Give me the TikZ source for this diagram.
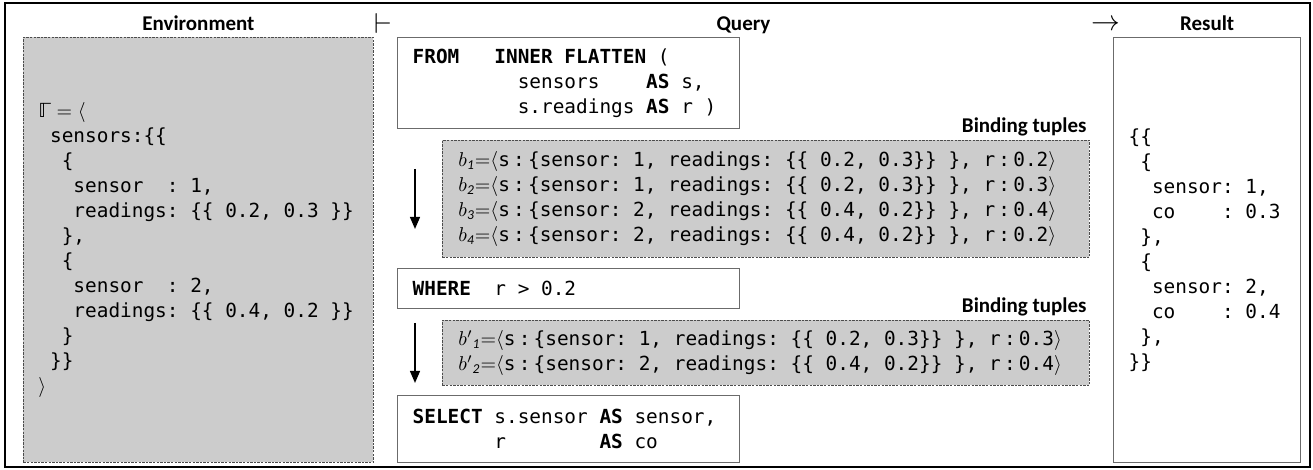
\documentclass[tikz,border=0pt]{standalone}
\usepackage{fontspec}
\usepackage{amssymb}
\setmainfont{Carlito}
\setmonofont{DejaVu Sans Mono}
\newfontfamily\symfont{DejaVu Sans}
\usetikzlibrary{positioning,calc,arrows.meta}
% blanks as whole monospace cells
\newcommand\gap[1]{\leavevmode\kern#1\fontcharwd\font`\x\relax}
\newcommand\spc{\gap{1}}

\begin{document}
\begin{tikzpicture}
[x=0.5pt, y=-0.5pt,
code/.style={font=\ttfamily\fontsize{9.7}{12.5}\selectfont, align=left, anchor=north west, inner xsep=7.5pt, inner ysep=0pt},
qbox/.style={code, draw=black!58, line width=0.65pt, minimum width=171pt, text width=156pt},
tbox/.style={code, draw=black!70, fill=black!20, dash pattern=on 1.2pt off 0.6pt, line width=0.45pt, minimum width=323.5pt, text width=307.5pt, inner xsep=8pt},
lbl/.style={font=\bfseries\fontsize{10.5}{12}\selectfont, inner sep=0pt, anchor=base},
sym/.style={font=\fontsize{15}{15}\selectfont, inner sep=0pt},
flow/.style={-{Triangle[length=6pt,width=5pt]}, line width=0.65pt}]
\useasboundingbox (0,0) rectangle (1313,470);
\draw[line width=1pt] (5,3) rectangle (1310,467);

% environment
\node[tbox, minimum width=175pt, text width=160pt, inner xsep=7.5pt, minimum height=212.5pt] (env) at (23,37)
	{{\symfont ℾ}${}={}\langle$\\
	\gap{1}sensors:\{\{\\
	\gap{2}\{\\
	\gap{3}sensor\gap{2}:\spc1,\\
	\gap{3}readings:\spc\{\{\spc0.2,\spc0.3\spc\}\}\\
	\gap{2}\},\\
	\gap{2}\{\\
	\gap{3}sensor\gap{2}:\spc2,\\
	\gap{3}readings:\spc\{\{\spc0.4,\spc0.2\spc\}\}\\
	\gap{2}\}\\
	\gap{1}\}\}\\
	$\rangle$};
\node[lbl] (envt) at (env.north |- 0,31) {Environment};
\node[sym] (turn) at (383,24) {$\vdash$};

% query
\node[qbox, minimum height=45.5pt] (from) at (397,37)
	{\textbf{FROM}\gap{3}\textbf{INNER}\spc\textbf{FLATTEN}\spc(\\
	\gap{9}sensors\gap{4}\textbf{AS}\spc s,\\
	\gap{9}s.readings\spc\textbf{AS}\spc r\spc)};
\node[tbox, minimum height=58.5pt] (t1) at (442,140)
	{$b_{\mathit{1}}{=}\langle$s\,:\,\{sensor:\spc1,\spc readings:\spc\{\{\spc0.2,\spc0.3\}\}\spc\},\spc r\,:\,0.2$\rangle$\\
	$b_{\mathit{2}}{=}\langle$s\,:\,\{sensor:\spc1,\spc readings:\spc\{\{\spc0.2,\spc0.3\}\}\spc\},\spc r\,:\,0.3$\rangle$\\
	$b_{\mathit{3}}{=}\langle$s\,:\,\{sensor:\spc2,\spc readings:\spc\{\{\spc0.4,\spc0.2\}\}\spc\},\spc r\,:\,0.4$\rangle$\\
	$b_{\mathit{4}}{=}\langle$s\,:\,\{sensor:\spc2,\spc readings:\spc\{\{\spc0.4,\spc0.2\}\}\spc\},\spc r\,:\,0.2$\rangle$};
\node[qbox, minimum height=20pt] (where) at (397,268)
	{\textbf{WHERE}\gap{2}r\spc>\spc0.2};
\node[tbox, minimum height=32.5pt] (t2) at (442,320)
	{$b'{}_{\mathit{1}}{=}\langle$s\,:\,\{sensor:\spc1,\spc readings:\spc\{\{\spc0.2,\spc0.3\}\}\spc\},\spc r\,:\,0.3$\rangle$\\
	$b'{}_{\mathit{2}}{=}\langle$s\,:\,\{sensor:\spc2,\spc readings:\spc\{\{\spc0.4,\spc0.2\}\}\spc\},\spc r\,:\,0.4$\rangle$};
\node[qbox, minimum height=33.5pt] (select) at (397,395)
	{\textbf{SELECT}\spc s.sensor\spc\textbf{AS}\spc sensor,\\
	\gap{7}r\gap{8}\textbf{AS}\spc co};
\coordinate (qmid) at ($(from.west)!0.5!(t1.east)$);
\node[lbl] (queryt) at (qmid |- 0,31) {Query};
\node[lbl, anchor=base east] (bt1) at ($(t1.north east)+(-3,-7)$) {Binding tuples};
\node[lbl, anchor=base east] (bt2) at ($(t2.north east)+(-3,-7)$) {Binding tuples};
\draw[flow] ($(t1.west)+(-27,-30)$) -- ($(t1.west)+(-27,30)$);
\draw[flow] ($(t2.west)+(-27,-30)$) -- ($(t2.west)+(-27,30)$);

% result
\node[sym] (yields) at (1106,25) {$\rightarrow$};
\node[qbox, minimum width=93.5pt, text width=78.5pt, minimum height=212.5pt] (res) at (1113,37)
	{\{\{\\
	\gap{1}\{\\
	\gap{2}sensor:\spc1,\\
	\gap{2}co\gap{4}:\spc0.3\\
	\gap{1}\},\\
	\gap{1}\{\\
	\gap{2}sensor:\spc2,\\
	\gap{2}co\gap{4}:\spc0.4\\
	\gap{1}\},\\
	\}\}};
\node[lbl] (rest) at (res.north |- 0,31) {Result};
\end{tikzpicture}
\end{document}
